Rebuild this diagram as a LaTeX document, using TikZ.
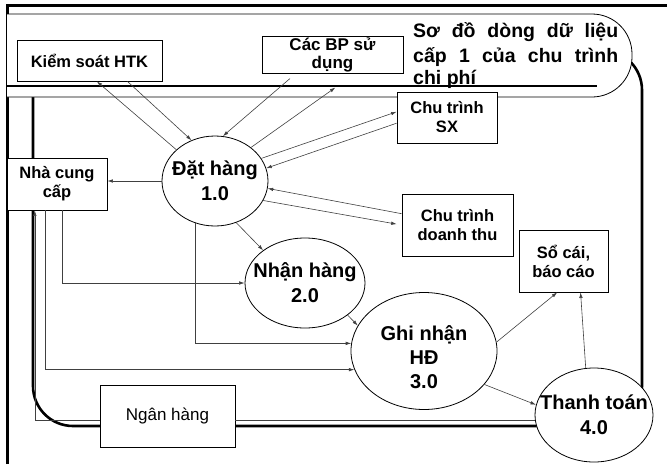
\documentclass[tikz,border=0pt]{standalone}
\usepackage{fontspec}
\setmainfont{Liberation Sans}
\usetikzlibrary{arrows.meta,calc,shapes.geometric}
\begin{document}
\begin{tikzpicture}[x=1pt,y=-1pt,
  box/.style={draw, line width=0.8pt, fill=white, rectangle, inner sep=1pt, align=center, font=\bfseries\fontsize{16.5}{19}\selectfont},
  proc/.style={draw, line width=0.8pt, fill=white, ellipse, inner sep=0pt},
  lbl/.style={inner sep=0pt, align=center, font=\bfseries\fontsize{20}{25}\selectfont},
  flow/.style={line width=0.6pt, draw=black!75, -{Latex[length=5.5pt,width=3.5pt]}},
  plain/.style={line width=0.6pt, draw=black!75},
  heavy/.style={line width=2.6pt},
  ttl/.style={anchor=base west, inner sep=0pt, font=\bfseries\fontsize{19.5}{24}\selectfont}]
\useasboundingbox (0,0) rectangle (667,464);
% outer frame
\draw[line width=3pt] (7,464) -- (7,5) -- (667,5);
% big thick rounded frame
\draw[heavy, rounded corners=40pt] (33,50) rectangle (642,426);
% title box
\draw[line width=0.8pt, fill=white, rounded corners=40pt] (7,14) -- (632,14) -- (632,97) -- (7,97);
\draw[heavy] (7,86) -- (597,86);
\node[ttl] (t1) at (413,37) {\hbox to 205pt{\bfseries Sơ\hfill đồ\hfill dòng\hfill dữ\hfill liệu}};
\node[ttl] (t2) at (413,62) {\hbox to 205pt{\bfseries cấp\hfill 1\hfill của\hfill chu\hfill trình}};
\node[ttl] (t3) at (413,84) {\bfseries chi phí};
% boxes
\node[box, minimum width=145pt, minimum height=41pt] (ks) at (89.5,60.5) {Kiểm soát HTK};
\node[box, minimum width=141pt, minimum height=36pt, font=\bfseries\fontsize{17}{18}\selectfont] (bp) at (332.5,55) {Các BP sử\\dụng};
\node[box, minimum width=100pt, minimum height=51pt] (sx) at (447,117.5) {Chu trình\\SX};
\node[box, minimum width=100pt, minimum height=52pt] (ncc) at (57,184) {Nhà cung\\cấp};
\node[box, minimum width=111pt, minimum height=62pt] (dt) at (457.5,225) {Chu trình\\doanh thu};
\node[box, minimum width=89pt, minimum height=62pt] (sc) at (563.5,261) {Sổ cái,\\báo cáo};
\node[box, minimum width=135pt, minimum height=62pt, font=\fontsize{17}{20}\selectfont] (nh) at (167.5,416) {Ngân hàng};
% processes
\node[proc, minimum width=106pt, minimum height=90pt, label={[lbl]center:{Đặt hàng\\1.0}}] (dh) at (215,181) {};
\node[proc, minimum width=120pt, minimum height=90pt, label={[lbl]center:{Nhận hàng\\2.0}}] (nhh) at (305,283) {};
\node[proc, minimum width=146pt, minimum height=117pt, label={[lbl, yshift=-6pt, font=\bfseries\fontsize{20}{24}\selectfont]center:{Ghi nhận\\HĐ\\3.0}}] (gn) at (424,351) {};
\node[proc, minimum width=118pt, minimum height=94pt, label={[lbl]center:{Thanh toán\\4.0}}] (tt) at (594,415) {};
% flows
\draw[flow] (dh.141) -- ($(ks.south west)!0.55!(ks.south east)$);
\draw[flow] ($(ks.south west)!0.76!(ks.south east)$) -- (dh.120);
\draw[flow] ($(bp.south west)!0.2!(bp.south east)+(0,5)$) -- (dh.80);
\draw[flow] (dh.43) -- ($(bp.south west)!0.52!(bp.south east)+(0,14)$);
\draw[flow] (dh.26) -- ($(sx.north west)!0.39!(sx.south west)$);
\draw[flow] ($(sx.north west)!0.61!(sx.south west)$) -- (dh.14);
\draw[flow] ($(dt.north west)!0.32!(dt.south west)$) -- (dh.-8);
\draw[flow, shorten >=5pt] (dh.-22) -- ($(dt.north west)!0.5!(dt.south west)$);
\draw[flow] (dh.-63) -- (nhh.142);
\draw[flow] (nhh.-37) -- (gn.159);
\draw[flow] (gn.7) -- ($(sc.south west)!0.43!(sc.south east)$);
\draw[flow] (tt.100) -- ($(sc.south west)!0.69!(sc.south east)$);
\draw[flow] (gn.-29) -- (tt.170);
\draw[flow] (dh.west) -- (dh.west -| ncc.east);
\draw[flow] ($(ncc.south west)!0.55!(ncc.south east)$) |- (nhh.west);
\draw[flow] (dh.-115) |- (gn.174);
\draw[flow] ($(ncc.south west)!0.38!(ncc.south east)$) |- (gn.195);
\draw[plain] (tt.185) -- (tt.185 -| nh.east);
\draw[flow] (tt.185 -| nh.west) -| ($(ncc.south west)!0.28!(ncc.south east)$);
\end{tikzpicture}
\end{document}
